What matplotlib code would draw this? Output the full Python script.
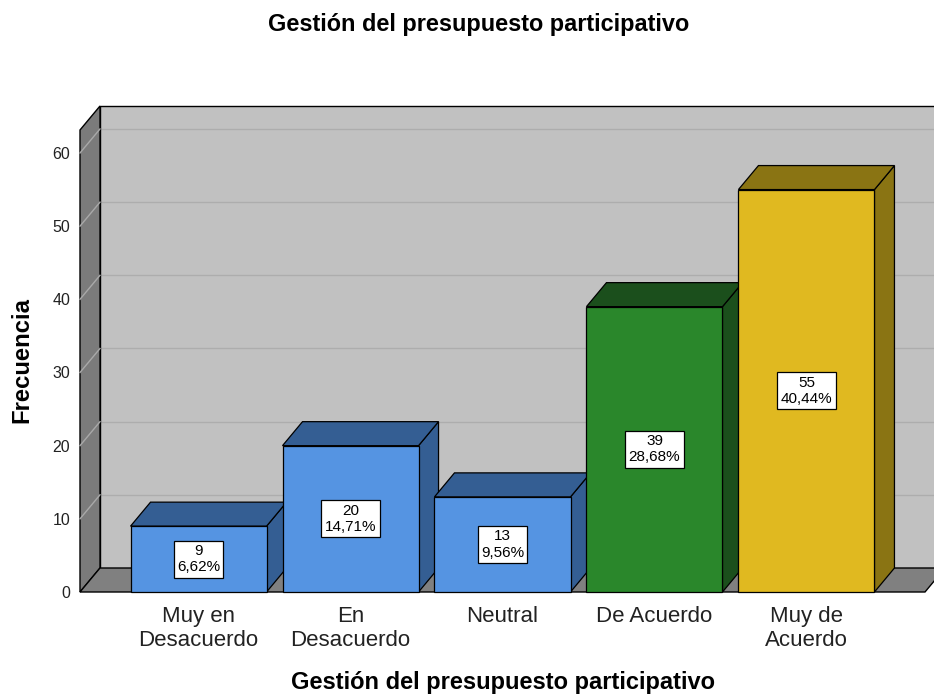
import matplotlib
matplotlib.use("Agg")
import matplotlib.pyplot as plt
from matplotlib.patches import Polygon
from matplotlib.transforms import ScaledTranslation, IdentityTransform
import numpy as np

plt.rcParams['font.family'] = ['Liberation Sans', 'DejaVu Sans']

title = "Gestión del presupuesto participativo"
xlabel = "Gestión del presupuesto participativo"
ylabel = "Frecuencia"
categories = ["Muy en\nDesacuerdo", "En\nDesacuerdo", "Neutral", "De Acuerdo", "Muy de\nAcuerdo"]
counts = [9, 20, 13, 39, 55]
percents = ["6,62%", "14,71%", "9,56%", "28,68%", "40,44%"]
yticks = [0, 10, 20, 30, 40, 50, 60]

front_colors = ["#5594e2", "#5594e2", "#5594e2", "#2a872b", "#e0b920"]
dark_colors = ["#345e93", "#345e93", "#345e93", "#1b4f1c", "#8a7413"]

W, H = 934, 696
fig = plt.figure(figsize=(W / 100, H / 100), dpi=100)
ax = fig.add_axes([80 / W, (H - 592) / H, (925 - 80) / W, (592 - 130) / H])
ax.set_xlim(-0.78, 4.78)
ax.set_ylim(0, 63.14)
ax.patch.set_visible(False)
for s in ax.spines.values():
    s.set_visible(False)

DX, DY = 0.20, 0.24  # depth offset in inches
front = ax.transData
back = ax.transData + ScaledTranslation(DX, DY, fig.dpi_scale_trans)
x0, x1 = ax.get_xlim()
y1 = ax.get_ylim()[1]


def face(front_pts, back_pts, **kw):
    pts = []
    if front_pts:
        pts.append(front.transform(front_pts))
    if back_pts:
        pts.append(back.transform(back_pts))
    p = Polygon(np.vstack(pts), closed=True, transform=IdentityTransform(),
                clip_on=False, **kw)
    ax.add_artist(p)
    return p


# back wall
ax.add_patch(Polygon([(x0, 0), (x1, 0), (x1, y1), (x0, y1)], closed=True,
                     transform=back, facecolor="#c1c1c1", edgecolor="none",
                     clip_on=False, zorder=1))
for v in yticks[1:]:
    ax.plot([x0, x1], [v, v], transform=back, color="#adadad", lw=1.0,
            clip_on=False, zorder=1.5)
ax.plot([x0, x0, x1], [0, y1, y1], transform=back, color="black", lw=1.0,
        clip_on=False, zorder=2)

# left side wall
face([(x0, 0), (x0, y1)], [(x0, y1), (x0, 0)], facecolor="#7b7b7b",
     edgecolor="black", lw=1.0, zorder=3)
for v in yticks[1:]:
    seg = np.vstack([front.transform([(x0, v)]), back.transform([(x0, v)])])
    ax.plot(seg[:, 0], seg[:, 1], transform=IdentityTransform(), color="#a9a9a9",
            lw=1.0, clip_on=False, zorder=3.5)

# floor
face([(x0, 0), (x1, 0)], [(x1, 0), (x0, 0)], facecolor="#808080",
     edgecolor="black", lw=1.0, zorder=4)

# bars
bw = 0.895
bars = ax.bar(range(len(counts)), counts, width=bw, color=front_colors,
              edgecolor="black", lw=0.9, clip_on=False)
for i, (v, rect) in enumerate(zip(counts, bars)):
    xl, xr = i - bw / 2, i + bw / 2
    z = 10 + 3 * i
    face([(xr, 0), (xr, v)], [(xr, v), (xr, 0)], facecolor=dark_colors[i],
         edgecolor="black", lw=0.9, zorder=z)
    face([(xl, v), (xr, v)], [(xr, v), (xl, v)], facecolor=dark_colors[i],
         edgecolor="black", lw=0.9, zorder=z + 1)
    rect.set_zorder(z + 2)
    ax.text(i, v / 2, f"{v}\n{percents[i]}", ha="center", va="center",
            fontsize=11, linespacing=1.2, color="black", zorder=100,
            bbox=dict(boxstyle="square,pad=0.22", fc="white", ec="black", lw=0.9))

ax.set_yticks(yticks)
ax.set_xticks(range(len(categories)))
ax.set_xticklabels(categories, linespacing=1.2)
ax.tick_params(axis="y", length=0, pad=7, labelsize=11.5, labelcolor="#222222")
ax.tick_params(axis="x", length=0, pad=10, labelsize=16, labelcolor="#222222")

fig.text(479 / W, 1 - 25 / H, title, ha="center", va="center", fontsize=16.9,
         fontweight="bold")
fig.text(22 / W, 1 - 360 / H, ylabel, ha="center", va="center", fontsize=17.2,
         fontweight="bold", rotation=90)
fig.text(503 / W, 1 - 689 / H, xlabel, ha="center", va="baseline", fontsize=17,
         fontweight="bold")

fig.savefig("out.png", dpi=100)
